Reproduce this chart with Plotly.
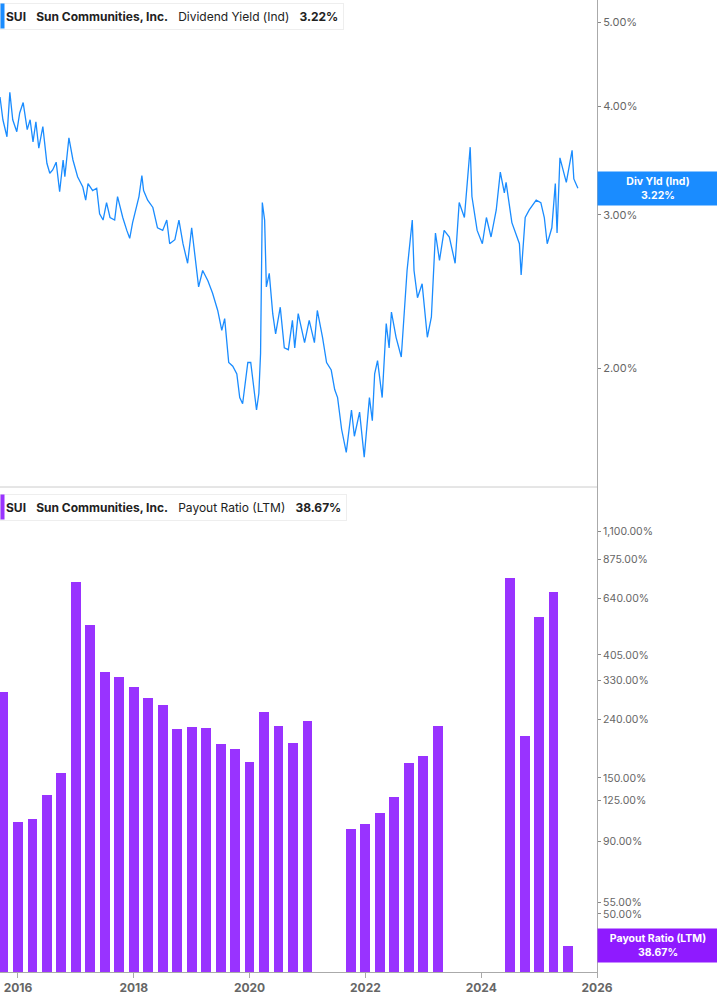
import math
import plotly.graph_objects as go

yld_t = [2015.69,2015.74,2015.81,2015.86,2015.91,2015.98,2016.03,2016.09,2016.16,2016.21,2016.26,2016.31,2016.36,2016.43,2016.50,2016.55,2016.60,2016.66,2016.72,2016.78,2016.81,2016.88,2016.95,2017.03,2017.12,2017.17,2017.21,2017.29,2017.36,2017.41,2017.47,2017.53,2017.59,2017.67,2017.72,2017.81,2017.88,2017.93,2017.98,2018.05,2018.09,2018.14,2018.17,2018.24,2018.33,2018.41,2018.50,2018.57,2018.62,2018.71,2018.78,2018.85,2018.93,2019.00,2019.05,2019.12,2019.19,2019.28,2019.36,2019.45,2019.52,2019.57,2019.64,2019.71,2019.78,2019.83,2019.88,2019.97,2020.02,2020.07,2020.12,2020.16,2020.19,2020.22,2020.26,2020.29,2020.34,2020.40,2020.45,2020.53,2020.60,2020.67,2020.74,2020.78,2020.84,2020.95,2021.03,2021.12,2021.17,2021.26,2021.33,2021.41,2021.47,2021.52,2021.59,2021.67,2021.76,2021.81,2021.90,2021.98,2022.07,2022.12,2022.16,2022.21,2022.29,2022.36,2022.41,2022.45,2022.53,2022.62,2022.67,2022.72,2022.81,2022.84,2022.90,2022.98,2023.07,2023.14,2023.21,2023.28,2023.36,2023.45,2023.55,2023.62,2023.71,2023.76,2023.81,2023.84,2023.93,2024.02,2024.09,2024.17,2024.26,2024.33,2024.40,2024.43,2024.53,2024.66,2024.69,2024.76,2024.83,2024.95,2025.03,2025.09,2025.14,2025.22,2025.28,2025.31,2025.36,2025.47,2025.57,2025.60,2025.67]
yld_v = [4.10,3.86,3.69,4.15,3.86,3.74,3.93,4.04,3.76,3.86,3.64,3.84,3.58,3.79,3.44,3.35,3.38,3.45,3.19,3.47,3.32,3.68,3.47,3.32,3.23,3.12,3.26,3.20,3.22,3.01,2.96,3.10,2.98,2.96,3.15,2.98,2.88,2.82,2.94,3.06,3.15,3.33,3.20,3.12,3.06,2.90,2.88,2.96,2.78,2.81,2.96,2.78,2.64,2.90,2.71,2.48,2.59,2.52,2.44,2.33,2.21,2.28,2.03,2.01,1.97,1.85,1.82,2.03,2.03,1.90,1.79,1.87,2.08,3.10,2.96,2.48,2.57,2.31,2.19,2.35,2.11,2.10,2.27,2.11,2.31,2.14,2.27,2.14,2.33,2.17,2.03,1.99,1.89,1.85,1.70,1.60,1.79,1.67,1.78,1.58,1.85,1.74,1.97,2.04,1.85,2.25,2.11,2.32,2.17,2.06,2.32,2.59,2.96,2.59,2.41,2.50,2.17,2.29,2.86,2.66,2.88,2.83,2.64,3.10,2.98,3.26,3.59,3.15,2.88,2.78,2.98,2.83,3.04,3.36,3.18,3.27,2.94,2.78,2.56,2.98,3.04,3.12,3.10,2.98,2.78,2.90,3.26,2.86,3.49,3.27,3.56,3.30,3.22]

pay_t = [2015.75,2016.00,2016.25,2016.50,2016.75,2017.00,2017.25,2017.50,2017.75,2018.00,2018.25,2018.50,2018.75,2019.00,2019.25,2019.50,2019.75,2020.00,2020.25,2020.50,2020.75,2021.00,
         2021.75,2022.00,2022.25,2022.50,2022.75,2023.00,2023.25,
         2024.50,2024.75,2025.00,2025.25,2025.50]
pay_v = [300,105,108,131,156,730,515,353,339,313,286,270,223,226,224,197,189,171,255,228,199,238,
         99,103,113,129,169,179,228,
         753,210,549,673,38.67]

year_ticks = [2016,2018,2020,2022,2024,2026]
yld_ticks = [2,3,4,5]
pay_ticks = [35,50,55,90,125,150,240,330,405,640,875,1100]

BLUE = "#1a8cff"
PURPLE = "#9933ff"
GRAY = "#666666"
FONT = "Inter"

fig = go.Figure()
fig.add_trace(go.Scatter(x=yld_t, y=yld_v, mode="lines", line=dict(color=BLUE, width=1.3),
                         xaxis="x", yaxis="y", showlegend=False))
fig.add_trace(go.Bar(x=pay_t, y=pay_v, marker=dict(color=PURPLE, line=dict(width=0)), width=0.17,
                     xaxis="x2", yaxis="y2", showlegend=False))

split = 485/972
XR = [2015.69, 2026.0]
fig.update_layout(
    width=717, height=1005,
    margin=dict(l=0, r=120, t=0, b=33),
    paper_bgcolor="white", plot_bgcolor="white",
    font=dict(family=FONT, size=11, color=GRAY),
    bargap=0,
    xaxis=dict(domain=[0, 1], range=XR, anchor="y", showticklabels=False,
               showgrid=False, zeroline=False, showline=False, ticks=""),
    xaxis2=dict(domain=[0, 1], range=XR, anchor="y2", matches="x",
                tickvals=year_ticks, ticktext=[str(v) for v in year_ticks],
                tickfont=dict(size=12, color=GRAY, family=FONT, weight="bold"),
                showgrid=False, zeroline=False, showline=True, linecolor="#aaaaaa",
                ticks="outside", ticklen=5, tickcolor="#aaaaaa"),
    yaxis=dict(domain=[split, 1], type="log", range=[math.log10(1.46), math.log10(5.3)],
               side="right", tickvals=yld_ticks, ticktext=[f"{v:.2f}%" for v in yld_ticks],
               showgrid=False, zeroline=False, showline=True, linecolor="#aaaaaa",
               ticks="outside", ticklen=3, tickcolor="#888888", tickfont=dict(size=11, color=GRAY)),
    yaxis2=dict(domain=[0, split], type="log", range=[math.log10(31.3), math.log10(1570)],
                side="right", anchor="x2", tickvals=pay_ticks,
                ticktext=[f"{v:,.2f}%" for v in pay_ticks],
                showgrid=False, zeroline=False, showline=True, linecolor="#aaaaaa",
                ticks="outside", ticklen=3, tickcolor="#888888", tickfont=dict(size=10.5, color=GRAY)),
)

fig.add_shape(type="line", xref="paper", yref="paper", x0=0, x1=1, y0=split, y1=split,
              line=dict(color="#cccccc", width=1))

def header(ybox, color, text):
    fig.add_annotation(xref="paper", yref="paper", x=0.0, y=ybox, xanchor="left", yanchor="top",
                       text=text, showarrow=False, align="left",
                       font=dict(size=12, color="#222222", family=FONT),
                       bgcolor="white", bordercolor="#eeeeee", borderwidth=1, borderpad=5)
    fig.add_annotation(xref="paper", yref="paper", x=0.0, y=ybox, xanchor="left", yanchor="top",
                       text=" ", showarrow=False, width=1, height=22,
                       bgcolor=color, borderpad=1)

header(1.0 - 3/972, BLUE, "<b>SUI</b>   <b>Sun Communities, Inc.</b>   Dividend Yield (Ind)   <b>3.22%</b>")
header(split - 7/972, PURPLE, "<b>SUI</b>   <b>Sun Communities, Inc.</b>   Payout Ratio (LTM)   <b>38.67%</b>")

fig.add_annotation(xref="paper", yref="y", x=1.0, y=math.log10(yld_v[-1]), xanchor="left",
                   text="<b>Div Yld (Ind)<br>3.22%</b>", showarrow=False, width=114,
                   font=dict(size=10.5, color="white", family=FONT), bgcolor=BLUE, borderpad=3)
fig.add_annotation(xref="paper", yref="y2", x=1.0, y=math.log10(pay_v[-1]), xanchor="left",
                   text="<b>Payout Ratio (LTM)<br>38.67%</b>", showarrow=False, width=114,
                   font=dict(size=10.5, color="white", family=FONT), bgcolor="#8f1aff", borderpad=3)

fig.write_html("out.html", config={"displayModeBar": False},
               post_script="document.body.style.margin='0';")
